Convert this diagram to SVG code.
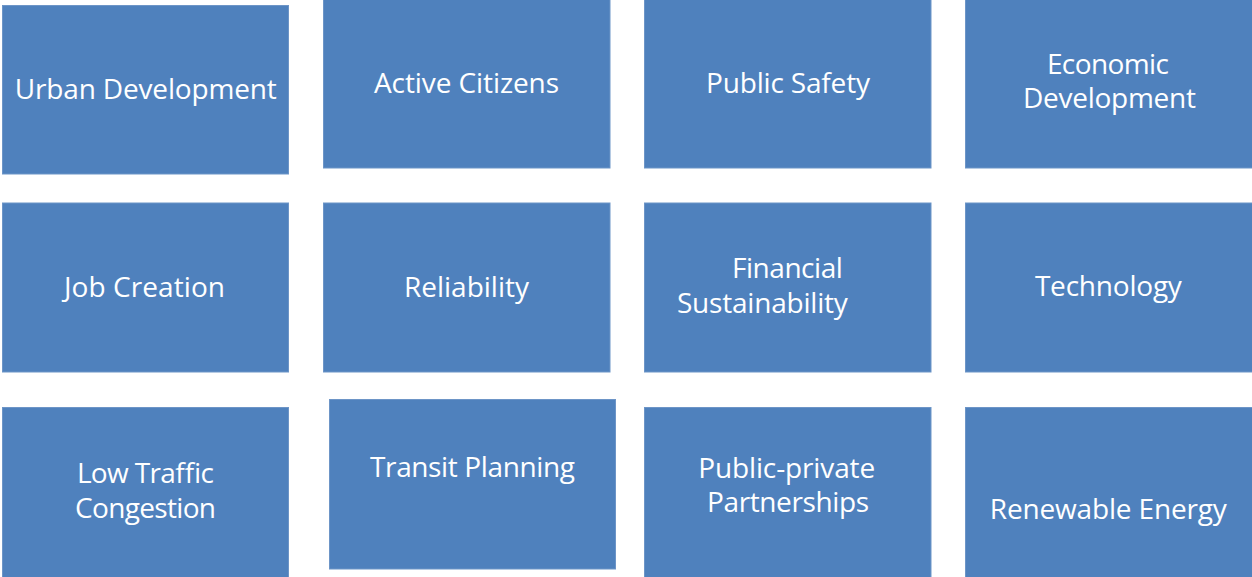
<svg xmlns="http://www.w3.org/2000/svg" width="1252" height="577" viewBox="0 0 1252 577">
  <style>
    .box { fill: #4f81bd; stroke: #6d95c7; stroke-width: 1; }
    .lbl { fill: #ffffff; font-family: "Open Sans", "Noto Sans", "Liberation Sans", sans-serif; font-size: 28px; text-anchor: middle; }
  </style>
  <rect width="1252" height="577" fill="#ffffff"/>

  <!-- Row 1 -->
  <g id="urban-development">
    <rect class="box" x="2.5" y="5.5" width="286" height="168.5"/>
    <text class="lbl" x="145.8" y="99" textLength="262">Urban Development</text>
  </g>
  <g id="active-citizens">
    <rect class="box" x="323.5" y="-1" width="286.5" height="169"/>
    <text class="lbl" x="466.5" y="92.7" textLength="185">Active Citizens</text>
  </g>
  <g id="public-safety">
    <rect class="box" x="644.5" y="-1" width="286.5" height="169"/>
    <text class="lbl" x="788" y="93" textLength="164">Public Safety</text>
  </g>
  <g id="economic-development">
    <rect class="box" x="965.5" y="-1" width="288" height="169"/>
    <text class="lbl" x="1107.9" y="74" textLength="122">Economic</text>
    <text class="lbl" x="1109.4" y="108.3" textLength="173">Development</text>
  </g>

  <!-- Row 2 -->
  <g id="job-creation">
    <rect class="box" x="2.5" y="203" width="286" height="169"/>
    <text class="lbl" x="144.5" y="296.5" textLength="161">Job Creation</text>
  </g>
  <g id="reliability">
    <rect class="box" x="323.5" y="203" width="286.5" height="169"/>
    <text class="lbl" x="466.5" y="296.5" textLength="125">Reliability</text>
  </g>
  <g id="financial-sustainability">
    <rect class="box" x="644.5" y="203" width="286.5" height="169"/>
    <text class="lbl" x="787.4" y="278.3" textLength="111">Financial</text>
    <text class="lbl" x="762.4" y="313.3" textLength="171">Sustainability</text>
  </g>
  <g id="technology">
    <rect class="box" x="965.5" y="203" width="288" height="169"/>
    <text class="lbl" x="1108.4" y="295.5" textLength="147">Technology</text>
  </g>

  <!-- Row 3 -->
  <g id="low-traffic-congestion">
    <rect class="box" x="2.5" y="407.5" width="286" height="171"/>
    <text class="lbl" x="145.4" y="483.3" textLength="137">Low Traffic</text>
    <text class="lbl" x="145.5" y="518.3" textLength="141">Congestion</text>
  </g>
  <g id="transit-planning">
    <rect class="box" x="329.5" y="399.5" width="286" height="169.5"/>
    <text class="lbl" x="472.5" y="476.7" textLength="205">Transit Planning</text>
  </g>
  <g id="public-private-partnerships">
    <rect class="box" x="644.5" y="407.5" width="286.5" height="171"/>
    <text class="lbl" x="786.7" y="477.5" textLength="177">Public-private</text>
    <text class="lbl" x="788" y="512" textLength="162">Partnerships</text>
  </g>
  <g id="renewable-energy">
    <rect class="box" x="965.5" y="407.5" width="288" height="171"/>
    <text class="lbl" x="1108.3" y="519" textLength="237">Renewable Energy</text>
  </g>
</svg>
